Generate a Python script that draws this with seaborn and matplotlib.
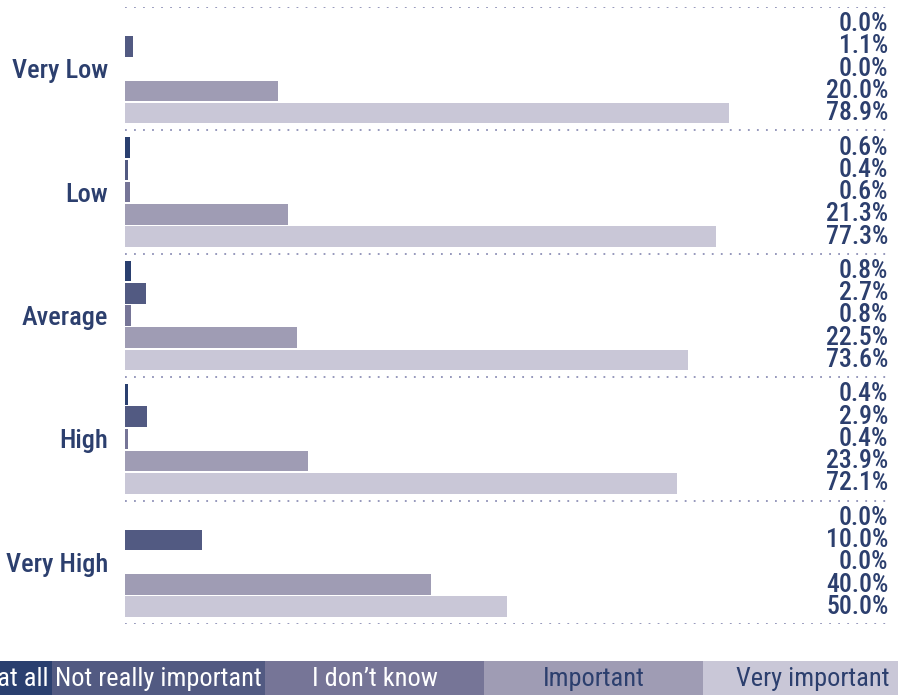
import matplotlib
matplotlib.use("Agg")
import matplotlib.pyplot as plt
from matplotlib.patches import Rectangle
from matplotlib.transforms import blended_transform_factory
import seaborn as sns
import pandas as pd

categories = ["Very Low", "Low", "Average", "High", "Very High"]
responses = ["Not at all", "Not really important", "I don\u2019t know",
             "Important", "Very important"]
not_at_all = [0.0, 0.6, 0.8, 0.4, 0.0]
not_really = [1.1, 0.4, 2.7, 2.9, 10.0]
dont_know = [0.0, 0.6, 0.8, 0.4, 0.0]
important = [20.0, 21.3, 22.5, 23.9, 40.0]
very_important = [78.9, 77.3, 73.6, 72.1, 50.0]

colors = ["#2a3f6f", "#525a82", "#767597", "#9f9cb4", "#c9c7d7"]
text_navy = "#2c3f6e"

series = [not_at_all, not_really, dont_know, important, very_important]
rows = []
for cat_i, cat in enumerate(categories):
    for resp, vals in zip(responses, series):
        rows.append({"category": cat, "response": resp, "value": vals[cat_i]})
df = pd.DataFrame(rows)

sns.set_theme(style="white")
plt.rcParams["font.family"] = ["Roboto Condensed", "DejaVu Sans"]

W, H = 898, 695
fig = plt.figure(figsize=(W / 100, H / 100), dpi=100)
ax = fig.add_axes([125 / W, (H - 624) / H, 765 / W, 617 / H])

sns.barplot(data=df, y="category", x="value", hue="response",
            order=categories, hue_order=responses, palette=colors,
            orient="h", width=0.9, gap=0.07, linewidth=0, saturation=1,
            legend=False, ax=ax)

ax.set_xlim(0, 100)
ax.set_ylim(4.5, -0.5)
for s in ax.spines.values():
    s.set_visible(False)
ax.set_xticks([])
ax.set_xlabel("")
ax.set_ylabel("")
ax.tick_params(axis="y", length=0, pad=12)
ax.set_yticks(range(len(categories)))
ax.set_yticklabels(categories, fontsize=19, color=text_navy, fontweight="medium")

# dotted group separators
for yb in [i - 0.5 for i in range(len(categories) + 1)]:
    ax.axhline(yb, color="#8d90b6", lw=1.3, linestyle=(0, (1, 4)), zorder=0)

# value labels at the right edge, one per bar
trans = blended_transform_factory(ax.transAxes, ax.transData)
slot = 0.9 / len(responses)
for cat_i in range(len(categories)):
    for r_i, vals in enumerate(series):
        yc = cat_i - 0.45 + slot * (r_i + 0.5)
        ax.text(0.998, yc, f"{vals[cat_i]:.1f}%", transform=trans,
                ha="right", va="center", fontsize=18.5, color=text_navy,
                fontweight="medium")

# legend strip along the bottom
box_edges = [-167, 52, 265, 484, 703, 922]
text_colors = ["white", "white", "white", text_navy, text_navy]
for i, resp in enumerate(responses):
    x0, x1 = box_edges[i], box_edges[i + 1]
    fig.patches.append(Rectangle((x0 / W, 0), (x1 - x0) / W, 34 / H,
                                 transform=fig.transFigure, facecolor=colors[i],
                                 edgecolor="none", zorder=0))
    if i == 0:
        fig.text(48 / W, 9 / H, resp, ha="right", va="baseline", fontsize=19,
                 color=text_colors[i])
    else:
        fig.text((x0 + x1) / 2 / W, 9 / H, resp, ha="center", va="baseline",
                 fontsize=19, color=text_colors[i])

fig.savefig("out.png", dpi=100)
